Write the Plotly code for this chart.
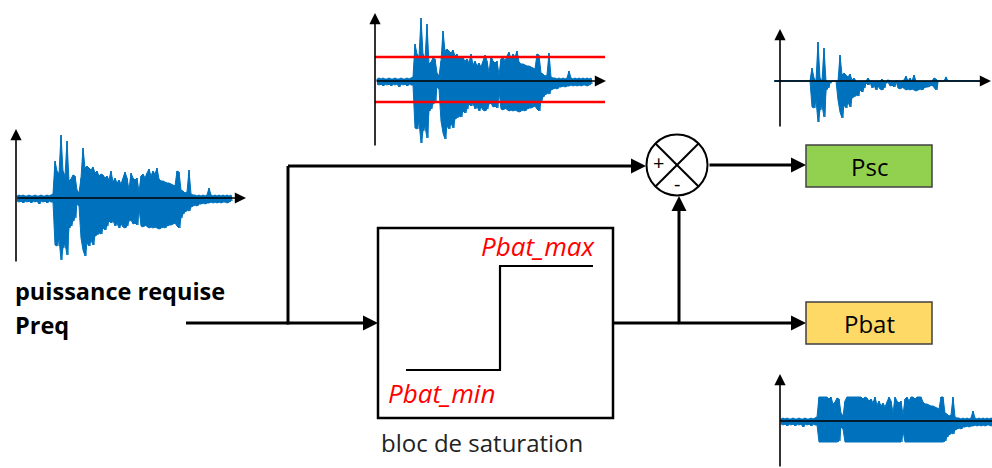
import plotly.graph_objects as go

# ---- data: required power envelope (px units), upper / lower peaks per sample ----
PREQ_POS = [2, 3, 2, 3, 2, 2, 3, 2, 2, 3, 2, 2, 3, 2, 2, 3, 2, 3, 4,
            37, 27, 24, 63, 27, 22, 57, 17, 19, 23, 22, 8, 5, 20, 50, 30, 32, 30, 28, 31, 25,
            27, 22, 24, 23, 20, 22, 18, 27, 16, 20, 15, 18, 14, 19, 26, 20, 8, 25, 20, 18,
            20, 6, 22, 24, 20, 25, 29, 22, 27, 24, 30, 19, 17, 17, 16, 15, 15, 14, 13, 12,
            27, 26, 8, 7, 5, 6, 28, 4, 3, 3, 2, 3, 2, 3, 2, 3, 10, 3, 2, 3,
            2, 3, 2, 3, 2, 3, 2, 3]
PREQ_NEG = [-3, -4, -3, -5, -3, -4, -3, -5, -3, -4, -3, -6, -3, -4, -3, -5, -3, -4, -4,
            -47, -48, -40, -62, -50, -45, -57, -30, -28, -23, -20, -6, -8, -40, -52, -58, -45, -48, -42, -47, -38,
            -37, -35, -36, -30, -32, -28, -23, -25, -22, -28, -25, -30, -26, -29, -30, -28, -23, -22, -26, -25,
            -27, -10, -28, -29, -27, -28, -30, -29, -30, -29, -30, -31, -30, -29, -30, -28, -27, -27, -26, -25,
            -28, -30, -20, -16, -14, -12, -13, -9, -8, -7, -8, -6, -6, -5, -6, -5, -5, -4, -5, -4,
            -5, -4, -5, -4, -4, -5, -4, -3]
PBAT_MAX = 24
PBAT_MIN = -21

LABEL_IN_1 = "<b>puissance requise</b>"
LABEL_IN_2 = "<b>Preq</b>"
LABEL_MAX = "<i>Pbat_max</i>"
LABEL_MIN = "<i>Pbat_min</i>"
LABEL_BLOCK = "bloc de saturation"
LABEL_PSC = "Psc"
LABEL_PBAT = "Pbat"

BLUE = "#0072BD"
FONT = "Open Sans"


def clip(v):
    return min(max(v, PBAT_MIN), PBAT_MAX)


pbat_pos = [clip(v) for v in PREQ_POS]
pbat_neg = [clip(v) for v in PREQ_NEG]
psc_pos = [p - c for p, c in zip(PREQ_POS, pbat_pos)]
psc_neg = [n - c for n, c in zip(PREQ_NEG, pbat_neg)]


def envelope(pos, neg):
    idx = list(range(len(pos)))
    return idx + idx[::-1], list(pos) + list(neg)[::-1]


def zigzag(pos, neg):
    xs, ys = [], []
    for i, (p, n) in enumerate(zip(pos, neg)):
        xs += [i, i + 0.5]
        ys += [p, n]
    return xs, ys


W, H = 992, 468
fig = go.Figure()

layout = dict(
    width=W, height=H, margin=dict(l=0, r=0, t=0, b=0, pad=0),
    paper_bgcolor="white", plot_bgcolor="white", showlegend=False,
    xaxis=dict(range=[0, W], visible=False, fixedrange=True),
    yaxis=dict(range=[H, 0], visible=False, fixedrange=True),
)
fig.add_trace(go.Scatter(x=[0], y=[0], mode="markers", marker=dict(opacity=0), hoverinfo="skip"))

# waveform panels: (first sample x px, zero line y px, pos, neg)
panels = [
    (17, 198, PREQ_POS, PREQ_NEG),
    (377, 81, PREQ_POS, PREQ_NEG),
    (774, 81, psc_pos, psc_neg),
    (781, 421, pbat_pos, pbat_neg),
]
for k, (px0, oy, pos, neg) in enumerate(panels, start=2):
    r0 = -px0 / 2
    layout[f"xaxis{k}"] = dict(overlaying="x", anchor=f"y{k}", range=[r0, r0 + W / 2], visible=False, fixedrange=True)
    layout[f"yaxis{k}"] = dict(overlaying="y", anchor=f"x{k}", range=[oy - H, oy], visible=False, fixedrange=True)
    ex, ey = envelope(pos, neg)
    fig.add_trace(go.Scatter(x=ex, y=ey, xaxis=f"x{k}", yaxis=f"y{k}", mode="lines", fill="toself",
                             fillcolor=BLUE, line=dict(color=BLUE, width=1), hoverinfo="skip"))
    xs, ys = zigzag(pos, neg)
    fig.add_trace(go.Scatter(x=xs, y=ys, xaxis=f"x{k}", yaxis=f"y{k}", mode="lines",
                             line=dict(color=BLUE, width=1.2), hoverinfo="skip"))
    if k == 3:
        for lvl in (PBAT_MAX, PBAT_MIN):
            fig.add_trace(go.Scatter(x=[-1, 114], y=[lvl, lvl], xaxis="x3", yaxis="y3", mode="lines",
                                     line=dict(color="#ff0000", width=2.5), hoverinfo="skip"))

fig.update_layout(**layout)

shapes = []
annotations = []


def line(x0, y0, x1, y1, w=3, color="black"):
    shapes.append(dict(type="line", xref="x", yref="y", x0=x0, y0=y0, x1=x1, y1=y1,
                       line=dict(color=color, width=w), layer="above"))


def arrow(x0, y0, x1, y1, w=3, size=1.0, head=2, color="black"):
    annotations.append(dict(xref="x", yref="y", axref="x", ayref="y", x=x1, y=y1, ax=x0, ay=y0,
                            text="", showarrow=True, arrowhead=head, arrowsize=size,
                            arrowwidth=w, arrowcolor=color, standoff=0, startstandoff=0))


def text(x, y, s, size, color="black", xanchor="center", yanchor="middle", family=FONT):
    annotations.append(dict(xref="x", yref="y", x=x, y=y, text=s, showarrow=False,
                            font=dict(size=size, color=color, family=family),
                            xanchor=xanchor, yanchor=yanchor))


# waveform axes (black arrows)
AX_W = 1.6
arrow(16, 263, 16, 129, w=AX_W, size=1.4)
arrow(16, 198, 246, 198, w=AX_W, size=1.4)
arrow(375, 147, 375, 13, w=AX_W, size=1.4)
arrow(375, 81, 606, 81, w=AX_W, size=1.4)
arrow(780, 128, 780, 29, w=AX_W, size=1.4)
arrow(773, 81, 991, 81, w=AX_W, size=1.4)
arrow(780, 468, 780, 374, w=AX_W, size=1.4)
line(780, 421, 992, 421, w=AX_W)

# block diagram connections
line(186, 323, 288, 323)
arrow(286, 323, 378, 323)
line(288, 324.5, 288, 166)
arrow(286.5, 166, 646, 166)
line(613, 323, 679, 323)
arrow(677, 323, 806, 323)
arrow(679, 324.5, 679, 196)
arrow(708, 165, 806, 165)

# saturation block
shapes.append(dict(type="rect", xref="x", yref="y", x0=378, y0=228, x1=613, y1=418,
                   line=dict(color="black", width=2.5), fillcolor="rgba(0,0,0,0)", layer="above"))
line(406, 370, 500, 370, w=2.2)
line(500, 371, 500, 266, w=2.2)
line(499, 266, 593, 266, w=2.2)

# summing junction
cx, cy, r = 677, 165, 30.5
shapes.append(dict(type="circle", xref="x", yref="y", x0=cx - r, y0=cy - r, x1=cx + r, y1=cy + r,
                   line=dict(color="black", width=2), fillcolor="white", layer="above"))
d = r * 0.7071
line(cx - d, cy - d, cx + d, cy + d, w=2)
line(cx + d, cy - d, cx - d, cy + d, w=2)

# output boxes
shapes.append(dict(type="rect", xref="x", yref="y", x0=806, y0=145, x1=932, y1=187,
                   line=dict(color="#404040", width=1.5), fillcolor="#92D050", layer="above"))
shapes.append(dict(type="rect", xref="x", yref="y", x0=806, y0=302, x1=932, y1=344,
                   line=dict(color="#404040", width=1.5), fillcolor="#FFD966", layer="above"))

# texts
text(658, 162, "+", 20)
text(677, 183, "-", 20)
text(869, 166, LABEL_PSC, 24)
text(869, 323, LABEL_PBAT, 24)
text(598, 246, LABEL_MAX, 26, color="#ff0000", xanchor="right")
text(386, 393, LABEL_MIN, 26, color="#ff0000", xanchor="left")
text(482, 442, LABEL_BLOCK, 24, color="#222222")
text(13, 291, LABEL_IN_1, 23.5, xanchor="left")
text(13, 325, LABEL_IN_2, 23.5, xanchor="left")

fig.update_layout(shapes=shapes, annotations=annotations)
fig.write_html("out.html", config={"displayModeBar": False},
               post_script="document.body.style.margin='0';document.body.style.padding='0';")
